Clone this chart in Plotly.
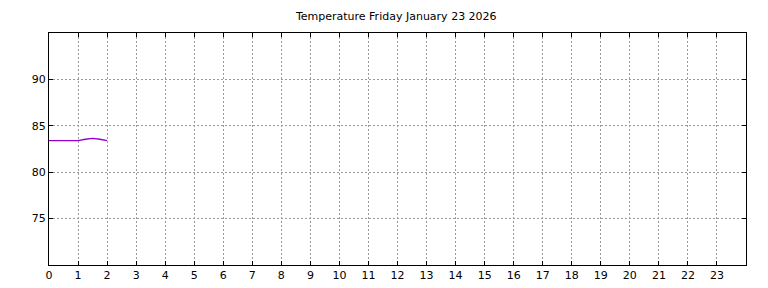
import plotly.graph_objects as go

hours = [0, 0.25, 0.5, 0.75, 1.0, 1.25, 1.5, 1.75, 2.0]
temps = [83.4, 83.4, 83.4, 83.4, 83.4, 83.55, 83.65, 83.55, 83.4]
x_ticks = list(range(24))
y_ticks = [75, 80, 85, 90]

fig = go.Figure()
fig.add_trace(go.Scatter(x=hours, y=temps, mode="lines",
                         line=dict(color="#9400D3", width=1.3),
                         showlegend=False, hoverinfo="skip"))

axis_common = dict(
    showline=True, linecolor="black", linewidth=1, mirror="ticks",
    ticks="inside", ticklen=4, tickcolor="black", tickwidth=1,
    showgrid=True, gridcolor="#999999", griddash="2px,2px", gridwidth=1,
    zeroline=False, automargin=False,
    tickfont=dict(family="DejaVu Sans", size=11, color="black"),
)

fig.update_xaxes(range=[0, 24], tickvals=x_ticks, ticktext=[str(t) for t in x_ticks], **axis_common)
fig.update_yaxes(range=[70, 95], tickvals=y_ticks, **axis_common)

fig.update_layout(
    template="none",
    width=768, height=288,
    margin=dict(l=49, r=22, t=33, b=23),
    paper_bgcolor="white", plot_bgcolor="white",
    title=dict(text="Temperature Friday January 23 2026", x=0.516, xanchor="center",
               y=0.945, yanchor="middle",
               font=dict(family="DejaVu Sans", size=11, color="black")),
)

fig.write_html("out.html", config={"displayModeBar": False})
